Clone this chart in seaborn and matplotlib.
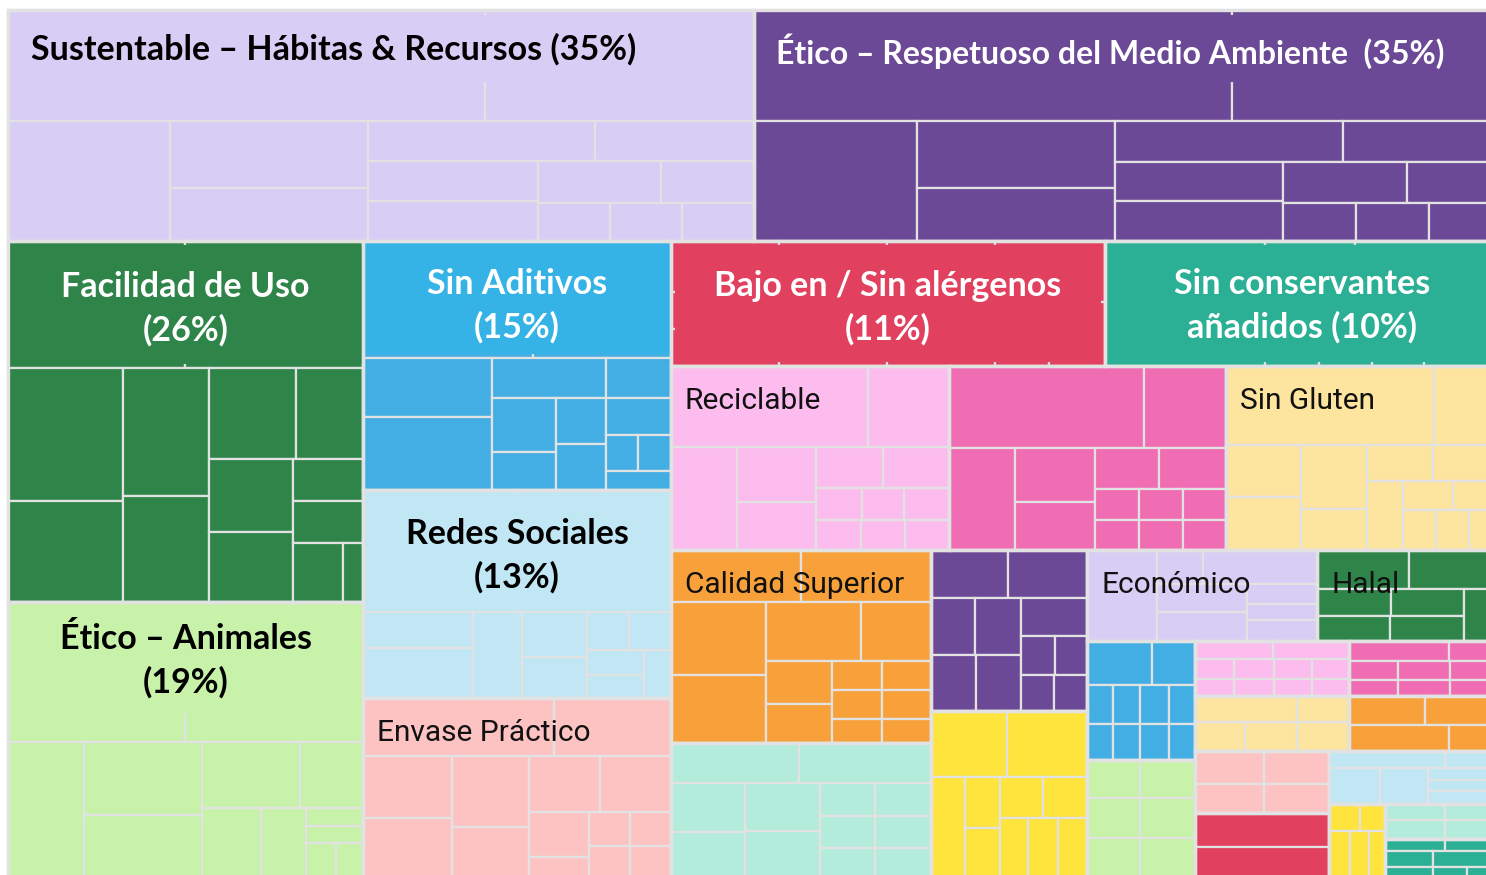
import matplotlib
matplotlib.use("Agg")
import matplotlib.pyplot as plt
from matplotlib.patches import Rectangle
import seaborn as sns

# ---------------- data ----------------
GROUPS = ['Sustentable', 'EticoMA', 'Facilidad', 'Animales', 'SinAditivos', 'Redes',
          'Envase', 'Bajo', 'SinCons', 'Reciclable', 'Rosa', 'SinGluten', 'Calidad',
          'Menta', 'Morado', 'Amarillo', 'Economico', 'Halal', 'Azul', 'Verde',
          'RosaClaro', 'RosaFuerte', 'Crema', 'Naranja', 'Salmon', 'Rojo', 'Celeste',
          'AmarilloPeq', 'MentaPeq', 'Turquesa']
SIZES = [35, 35, 26, 19.9, 15.5, 13.0, 11.2, 11, 10, 10.4, 10.3, 10.2, 10.2,
         7.1, 5.1, 5.3, 4.25, 3.35, 2.6, 2.6, 1.72, 1.68, 1.72, 1.68, 1.67, 1.77, 1.8,
         0.84, 0.81, 0.91]

# sub-item sizes inside each group ('h' = side by side, 'v' = stacked)
SUSTENTABLE = ('v', [('h', [52.9, 29.7]),
                     ('h', [19.6, ('v', [13.3, 10.7]),
                            ('v', [('h', [9.3, 6.5]),
                                   ('h', [('v', [6.8, 6.8]),
                                          ('v', [('h', [5.1, 3.8]), ('h', [2.8, 2.8, 2.8])])])])])])
ETICO_MA = ('v', [('h', [53.0, 29.5]),
                  ('h', [19.7, ('v', [13.3, 10.7]),
                         ('v', [('h', [9.3, 6.4]),
                                ('h', [('v', [6.7, 6.7]),
                                       ('v', [('h', [5.1, 3.8]), ('h', [2.8, 2.8, 2.7])])])])])])
FACILIDAD = ('v', [('h', [22.3, 22.4]),
                   ('h', [('v', [15.2, 11.5]), ('v', [10.9, 9.0]),
                          ('v', [('h', [7.8, 6.0]),
                                 ('h', [('v', [6.1, 5.8]),
                                        ('v', [2.9, 2.9, ('h', [2.9, 1.2])])])])])])
ANIMALES = ('v', [('h', [24.8, 24.9]),
                  ('h', [10.3, ('v', [8.6, 7.4]),
                         ('v', [('h', [6.4, 4.2]),
                                ('h', [4.1, 3.1, ('v', [1.0, 1.0, ('h', [1.05, 0.95])])])])])])
SIN_ADITIVOS = ('v', [('h', [19.7, 16.0]),
                      ('h', [('v', [7.7, 9.3]),
                             ('v', [4.6, ('h', [('v', [3.5, 2.4]), ('v', [2.3, 2.3])])]),
                             ('v', [2.6, 2.4, ('h', [1.2, 1.2]), 1.2])])])
REDES = ('v', [('h', [18.8, 18.8]),
               ('h', [('v', [4.0, 5.5]), 4.2, ('v', [3.0, 2.7]),
                      ('v', [('h', [1.6, 1.6]), ('h', [('v', [1.4, 1.3]), 1.3])])])])
ENVASE = ('v', [('h', [10.9, 6.7]),
                ('h', [('v', [5.6, 5.3]), ('v', [5.5, 3.9]),
                       ('v', [('h', [4.0, 4.0]),
                              ('h', [('v', [2.7, 1.3]), ('v', [1.4, 1.3]), ('v', [1.4, 1.3])])])])])
BAJO = ('h', [('v', [5.45, 4.1, 4.0]), 13.4, 13.5, ('v', [6.6, ('h', [3.5, 3.6])])])
SIN_CONS = ('h', [20.0, ('v', [('h', [5.6, 8.9]), ('h', [3.4, 3.3, 3.3, 4.7])])])
RECICLABLE = ('v', [('h', [15.7, 6.5]),
                    ('h', [6.7, ('v', [4.3, 3.8]),
                           ('v', [('h', [2.7, 2.7]), ('h', [1.4, 1.3, 1.4]), ('h', [1.35, 1.3, 1.35])])])])
ROSA = ('v', [('h', [15.8, 6.6]),
              ('h', [6.6, ('v', [4.2, 3.8]),
                     ('v', [('h', [2.6, 2.7]), ('h', [1.35, 1.35, 1.3]), ('h', [1.3, 1.3, 1.25])])])])
SIN_GLUTEN = ('v', [('h', [16.3, 5.1]),
                    ('h', [('v', [3.9, 4.0]), ('v', [4.2, 2.7]),
                           ('v', [('h', [2.4, 2.4]),
                                  ('h', [2.5, ('v', [('h', [1.45, 1.35]), ('h', [1.3, 1.3, 1.2])])])])])])
CALIDAD = ('v', [('h', [6.8, 6.8]),
                 ('h', [('v', [6.9, 6.6]),
                        ('v', [('h', [5.5, 4.1]),
                               ('h', [('v', [2.8, 2.6]),
                                      ('v', [('h', [1.45, 1.4]), ('h', [1.45, 1.4]), ('h', [1.25, 1.2])])])])])])
MENTA = ('v', [('h', [4.9, 5.0]),
               ('h', [('v', [3.5, 3.3]), ('v', [3.5, 3.4]),
                      ('v', [('h', [1.76, 1.8]), ('h', [1.7, 1.74]), ('h', [1.6, 1.62])])])])
MORADO = ('v', [('h', [3.7, 3.8]),
                ('h', [('v', [('h', [2.5, 2.6]), ('h', [2.5, 2.5])]),
                       ('v', [2.5, ('h', [1.3, 1.25]), ('h', [1.2, 1.2])])])])
AMARILLO = ('v', [('h', [4.9, 5.1]),
                  ('h', [3.3, ('v', [1.75, 1.7]),
                         ('v', [('h', [1.7, 1.76]), ('h', [1.6, 1.7, 1.7])])])])
ECONOMICO = ('h', [6.3, ('v', [('h', [1.6, 3.9]), ('h', [('v', [2.5, 2.6]), ('v', [1.4, 1.1, 1.5])])])])
HALAL = ('v', [('h', [3.6, 3.5]), ('h', [('v', [('h', [2.0, 2.0]), ('h', [1.8, 1.85])]), 1.8])])
AZUL = ('v', [('h', [2.8, 1.9]), ('h', [1.0, 1.03, 1.1, 1.0]), ('h', [0.91, 0.95, 1.0, 0.91])])
VERDE = ('v', [('h', [2.0, 2.1]), ('h', [2.05, 2.15]), ('h', [2.05, 2.15])])
ROSA_CLARO = ('v', [('h', [1.23, 1.2]), ('h', [0.72, 0.74, 0.7, 0.68]), ('h', [0.61, 0.62, 0.59, 0.58])])
ROSA_FUERTE = ('v', [('h', [1.8, 0.9]), ('h', [0.83, 0.88, 0.83]), ('h', [0.74, 0.78, 0.74])])
CREMA = ('v', [('h', [2.35, 1.2]), ('h', [1.3, 1.35, 1.35])])
NARANJA = ('v', [('h', [2.05, 2.0]), ('h', [2.4, 1.2])])
SALMON = ('v', [('h', [2.2, 2.1]), ('h', [2.0, 1.9])])
ROJO = ('v', [4.4, 4.0])
CELESTE = ('v', [('h', [1.86, 0.86]), ('h', [1.84, 1.73, ('v', [0.85, 0.78, 0.92])])])
AMARILLO_PEQ = ('v', [('h', [0.84, 0.68]), ('h', [0.95, 0.9, 0.72])])
MENTA_PEQ = ('v', [('h', [0.96, 0.86]), ('h', [1.14, 1.03])])
TURQUESA = ('v', [('h', [0.72, 0.65]), ('h', [0.72, 0.99]), ('h', [0.48, 0.34, 0.32])])

TREES = [SUSTENTABLE, ETICO_MA, FACILIDAD, ANIMALES, SIN_ADITIVOS, REDES, ENVASE, BAJO,
         SIN_CONS, RECICLABLE, ROSA, SIN_GLUTEN, CALIDAD, MENTA, MORADO, AMARILLO,
         ECONOMICO, HALAL, AZUL, VERDE, ROSA_CLARO, ROSA_FUERTE, CREMA, NARANJA, SALMON,
         ROJO, CELESTE, AMARILLO_PEQ, MENTA_PEQ, TURQUESA]

ARRANGEMENT = ('v', [
    ('h', ['Sustentable', 'EticoMA']),
    ('h', [
        ('v', ['Facilidad', 'Animales']),
        ('v', ['SinAditivos', 'Redes', 'Envase']),
        ('v', [
            ('h', ['Bajo', 'SinCons']),
            ('h', ['Reciclable', 'Rosa', 'SinGluten']),
            ('h', [
                ('v', ['Calidad', 'Menta']),
                ('v', ['Morado', 'Amarillo']),
                ('v', [
                    ('h', ['Economico', 'Halal']),
                    ('h', [
                        ('v', ['Azul', 'Verde']),
                        ('v', [
                            ('h', ['RosaClaro', 'RosaFuerte']),
                            ('h', ['Crema', 'Naranja']),
                            ('h', [
                                ('v', ['Salmon', 'Rojo']),
                                ('v', ['Celeste', ('h', ['AmarilloPeq', ('v', ['MentaPeq', 'Turquesa'])])]),
                            ]),
                        ]),
                    ]),
                ]),
            ]),
        ]),
    ]),
])

HEAD_LABELS = {
    'Sustentable': 'Sustentable – Hábitas & Recursos (35%)',
    'EticoMA': 'Ético – Respetuoso del Medio Ambiente  (35%)',
    'Facilidad': 'Facilidad de Uso\n(26%)',
    'SinAditivos': 'Sin Aditivos\n(15%)',
    'Bajo': 'Bajo en / Sin alérgenos\n(11%)',
    'SinCons': 'Sin conservantes\nañadidos (10%)',
    'Redes': 'Redes Sociales\n(13%)',
    'Animales': 'Ético – Animales\n(19%)',
}
SUB_LABELS = {
    'Reciclable': 'Reciclable', 'SinGluten': 'Sin Gluten', 'Calidad': 'Calidad Superior',
    'Economico': 'Económico', 'Halal': 'Halal', 'Envase': 'Envase Práctico',
}

# ---------------- style ----------------
COLORS = {
    'Sustentable': '#d8cdf5', 'EticoMA': '#6c4996', 'Facilidad': '#2e8449',
    'Animales': '#c8f2aa', 'SinAditivos': '#42aee3', 'Redes': '#c1e7f5',
    'Envase': '#fdc3c3', 'Bajo': '#e1405e', 'SinCons': '#2bb095',
    'Reciclable': '#fcbdee', 'Rosa': '#f06cb3', 'SinGluten': '#fde49f',
    'Calidad': '#f8a13b', 'Menta': '#b4ecdb', 'Morado': '#6c4996',
    'Amarillo': '#fee43d', 'Economico': '#d8cdf5', 'Halal': '#2e8449',
    'Azul': '#42aee3', 'Verde': '#c8f2aa', 'RosaClaro': '#fcbdee',
    'RosaFuerte': '#f06cb3', 'Crema': '#fde49f', 'Naranja': '#f8a13b',
    'Salmon': '#fdc3c3', 'Rojo': '#e1405e', 'Celeste': '#c1e7f5',
    'AmarilloPeq': '#fee43d', 'MentaPeq': '#b4ecdb', 'Turquesa': '#2bb095',
}
# label box: (part, inset top, inset bottom, inset left/right, box colour, text colour,
#             align, font size, vertical text shift)
BOX_STYLE = {
    'Sustentable': ('header', 5, 39, 0, '#d8cdf5', '#000000', 'left', 24.5, 1),
    'EticoMA': ('header', 5, 39, 0, '#6c4996', '#ffffff', 'left', 23.0, 3),
    'Facilidad': ('header', 4, 4, 0, '#2e8449', '#ffffff', 'center', 24.5, 4),
    'SinAditivos': ('header', 0, 4, 0, '#35b3e7', '#ffffff', 'center', 24.5, 8),
    'Bajo': ('all', 4, 4, 4, '#e1405e', '#ffffff', 'center', 24.5, 4),
    'SinCons': ('all', 4, 4, 4, '#2bb095', '#ffffff', 'center', 24.5, 2),
    'Redes': ('header', 4, 2, 0, '#c1e7f5', '#000000', 'center', 24.5, 4),
    'Animales': ('header', 0, 29, 0, '#c8f2aa', '#000000', 'center', 24.5, 3),
}
LINE = '#e2e2e2'
EXTENT = (8, 10, 1499, 878)          # treemap area in figure pixels (cropped at right/bottom)
FIG_W, FIG_H = 1486, 875
SUB_SIZE = 21.5

sns.set_theme(style='white')
plt.rcParams['font.family'] = ['Lato', 'DejaVu Sans']

GROUP_VALUE = dict(zip(GROUPS, SIZES))
GROUP_TREE = dict(zip(GROUPS, TREES))


def total(node):
    if isinstance(node, str):
        return GROUP_VALUE[node]
    if isinstance(node, (int, float)):
        return node
    return sum(total(k) for k in node[1])


def split(node, rect):
    x0, y0, x1, y1 = rect
    d, kids = node
    w = [total(k) for k in kids]
    s = sum(w)
    out = []
    pos = x0 if d == 'h' else y0
    for k, wk in zip(kids, w):
        if d == 'h':
            nxt = pos + (x1 - x0) * wk / s
            out.append((k, (pos, y0, nxt, y1)))
        else:
            nxt = pos + (y1 - y0) * wk / s
            out.append((k, (x0, pos, x1, nxt)))
        pos = nxt
    return out


leaves, groups = [], []


def place(node, rect, group=None):
    if isinstance(node, str):
        groups.append((node, rect))
        place(GROUP_TREE[node], rect, node)
        return
    if isinstance(node, (int, float)):
        leaves.append((group, rect))
        return
    for k, r in split(node, rect):
        place(k, r, group)


place(ARRANGEMENT, EXTENT)

fig = plt.figure(figsize=(FIG_W / 100, FIG_H / 100), dpi=100)
fig.patch.set_facecolor('white')
ax = fig.add_axes([0, 0, 1, 1])
ax.set_xlim(0, FIG_W)
ax.set_ylim(FIG_H, 0)
ax.axis('off')

for g, (x0, y0, x1, y1) in leaves:
    ax.add_patch(Rectangle((x0, y0), x1 - x0, y1 - y0, facecolor=COLORS[g],
                           edgecolor=LINE, linewidth=1.6, zorder=1))

group_rects = dict(groups)
for g, st in BOX_STYLE.items():
    part, it, ib, ilr, bc, tc, align, fs, dy = st
    rect = group_rects[g]
    if part == 'header':
        rect = split(GROUP_TREE[g], rect)[0][1]
    x0, y0, x1, y1 = rect
    bx0, by0, bx1, by1 = x0 + ilr, y0 + it, x1 - ilr, y1 - ib
    ax.add_patch(Rectangle((bx0, by0), bx1 - bx0, by1 - by0, facecolor=bc,
                           edgecolor='none', zorder=2))
    cy = (by0 + by1) / 2 + dy
    if align == 'left':
        ax.text(bx0 + 23, cy, HEAD_LABELS[g], ha='left', va='center', color=tc,
                fontsize=fs, fontweight='bold', zorder=5)
    else:
        gx0, _, gx1, _ = group_rects[g]
        ax.text((gx0 + gx1) / 2, cy, HEAD_LABELS[g], ha='center', va='center',
                color=tc, fontsize=fs, fontweight='bold', linespacing=1.42, zorder=5)

for g, (x0, y0, x1, y1) in groups:
    ax.add_patch(Rectangle((x0, y0), x1 - x0, y1 - y0, fill=False,
                           edgecolor=LINE, linewidth=2.4, zorder=3))

for g, txt in SUB_LABELS.items():
    x0, y0, x1, y1 = group_rects[g]
    ax.text(x0 + 14, y0 + 35, txt, ha='left', va='center', color='#111111',
            fontsize=SUB_SIZE, family=['Liberation Sans Narrow', 'Roboto', 'DejaVu Sans'],
            zorder=5)

fig.savefig('out.png', dpi=100, facecolor='white')
